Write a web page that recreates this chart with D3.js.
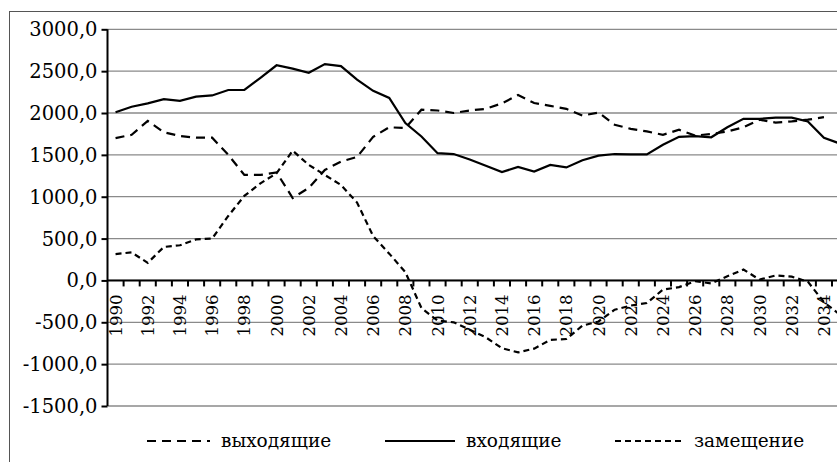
<html>
<head>
<meta charset="utf-8">
<script src="https://d3js.org/d3.v7.min.js"></script>
</head>
<body style="margin:0">
<svg id="chart" width="837" height="462" font-family="DejaVu Serif"></svg>
<script>
// years on the category axis
var years = [1990,1991,1992,1993,1994,1995,1996,1997,1998,1999,
             2000,2001,2002,2003,2004,2005,2006,2007,2008,2009,
             2010,2011,2012,2013,2014,2015,2016,2017,2018,2019,
             2020,2021,2022,2023,2024,2025,2026,2027,2028,2029,
             2030,2031,2032,2033,2034,2035];

// values
var vyhodyashchie = [1700,1740,1905,1770,1725,1705,1705,1500,1260,1260,
                     1290,985,1105,1320,1420,1475,1715,1830,1820,2040,
                     2030,2000,2030,2050,2115,2215,2120,2085,2050,1970,
                     2005,1860,1810,1780,1740,1800,1730,1750,1780,1830,
                     1920,1885,1900,1920,1950];
var vhodyashchie = [2010,2075,2115,2165,2145,2195,2210,2275,2275,2420,
                    2570,2530,2480,2585,2560,2400,2265,2180,1880,1720,
                    1520,1510,1445,1370,1295,1355,1300,1380,1350,1435,
                    1490,1510,1505,1505,1620,1715,1725,1710,1830,1930,
                    1930,1945,1945,1900,1705,1635];
var zameshchenie = [315,335,210,400,420,490,500,770,1010,1160,
                    1280,1550,1380,1260,1140,930,530,320,100,-330,
                    -480,-500,-590,-680,-810,-860,-815,-710,-700,-540,
                    -490,-350,-300,-270,-110,-80,-10,-35,50,130,
                    10,60,45,-15,-260,-410];

var yTicks = [-1500,-1000,-500,0,500,1000,1500,2000,2500,3000];
var legendNames = ["выходящие", "входящие", "замещение"];

var svg = d3.select("#chart");

// outer frame (runs off the right edge like the reference)
svg.append("rect")
   .attr("x", 9.5).attr("y", 11.5)
   .attr("width", 900).attr("height", 470)
   .attr("fill", "none")
   .attr("stroke", "#555")
   .attr("stroke-width", 1);

var left = 107.5, bandW = 16.1;
var x = d3.scaleBand()
          .domain(years)
          .range([left, left + bandW * years.length]);
var y = d3.scaleLinear()
          .domain([-1500, 3000])
          .range([406, 29.3]);

// gridlines
svg.append("g")
   .selectAll("line")
   .data(yTicks)
   .enter()
   .append("line")
   .attr("x1", left).attr("x2", 900)
   .attr("y1", function(d) { return y(d); })
   .attr("y2", function(d) { return y(d); })
   .attr("stroke", "#8a8a8a")
   .attr("stroke-width", 1.3);

// y axis: line and ticks drawn by d3.axisLeft, labels as plain text
var yAxis = d3.axisLeft(y)
              .tickValues(yTicks)
              .tickSize(6)
              .tickFormat("");
var gy = svg.append("g")
            .attr("transform", "translate(" + left + ",0)")
            .call(yAxis);
gy.select(".domain").remove();
gy.append("line")
  .attr("y1", y(3000)).attr("y2", y(-1500))
  .attr("stroke", "#000").attr("stroke-width", 2);
gy.selectAll(".tick line").attr("stroke", "#000").attr("stroke-width", 2);

svg.selectAll("text.ylab")
   .data(yTicks)
   .enter()
   .append("text")
   .attr("class", "ylab")
   .attr("x", left - 10)
   .attr("y", function(d) { return y(d); })
   .attr("dy", "0.36em")
   .attr("text-anchor", "end")
   .attr("font-family", "DejaVu Serif")
   .attr("font-size", 19.5)
   .text(function(d) { return d.toFixed(1).replace(".", ","); });

// x axis at zero: a tick between each year, labels every other year
var gx = svg.append("g");
gx.append("line")
  .attr("x1", left).attr("x2", 900)
  .attr("y1", y(0)).attr("y2", y(0))
  .attr("stroke", "#000").attr("stroke-width", 2);
gx.selectAll("line.tk")
  .data(years)
  .enter()
  .append("line")
  .attr("class", "tk")
  .attr("x1", function(d) { return x(d) + x.bandwidth(); })
  .attr("x2", function(d) { return x(d) + x.bandwidth(); })
  .attr("y1", y(0)).attr("y2", y(0) + 6)
  .attr("stroke", "#000").attr("stroke-width", 2);
svg.selectAll("text.xlab")
  .data(years.filter(function(d, i) { return i % 2 === 0; }))
  .enter()
  .append("text")
  .attr("class", "xlab")
  .attr("transform", function(d) {
    return "translate(" + (x(d) + x.bandwidth() / 2) + "," + (y(0) + 14) + ") rotate(-90)";
  })
  .attr("dy", "0.36em")
  .attr("text-anchor", "end")
  .attr("font-family", "DejaVu Serif")
  .attr("font-size", 16.5)
  .text(function(d) { return d; });

// lines
var series = [
  { name: legendNames[0], values: vyhodyashchie, dash: "9,6" },
  { name: legendNames[1], values: vhodyashchie, dash: null },
  { name: legendNames[2], values: zameshchenie, dash: "6,4" }
];
var line = d3.line()
             .x(function(d) { return x(d.year) + x.bandwidth() / 2; })
             .y(function(d) { return y(d.v); });

series.forEach(function(s) {
  var pts = s.values.map(function(v, i) { return { year: years[i], v: v }; });
  svg.append("path")
     .datum(pts)
     .attr("d", line)
     .attr("fill", "none")
     .attr("stroke", "#000")
     .attr("stroke-width", 2.2)
     .attr("stroke-dasharray", s.dash);
});

// legend
var legendX = [147, 385, 615];
var legendLen = [63, 70, 68];
series.forEach(function(s, i) {
  svg.append("line")
    .attr("x1", legendX[i]).attr("x2", legendX[i] + legendLen[i])
    .attr("y1", 441).attr("y2", 441)
    .attr("stroke", "#000").attr("stroke-width", 2.2)
    .attr("stroke-dasharray", s.dash);
  svg.append("text")
    .attr("x", legendX[i] + legendLen[i] + 11)
    .attr("y", 441)
    .attr("dy", "0.34em")
    .attr("font-family", "DejaVu Serif")
    .attr("font-size", 18.5)
    .text(s.name);
});
</script>
</body>
</html>
